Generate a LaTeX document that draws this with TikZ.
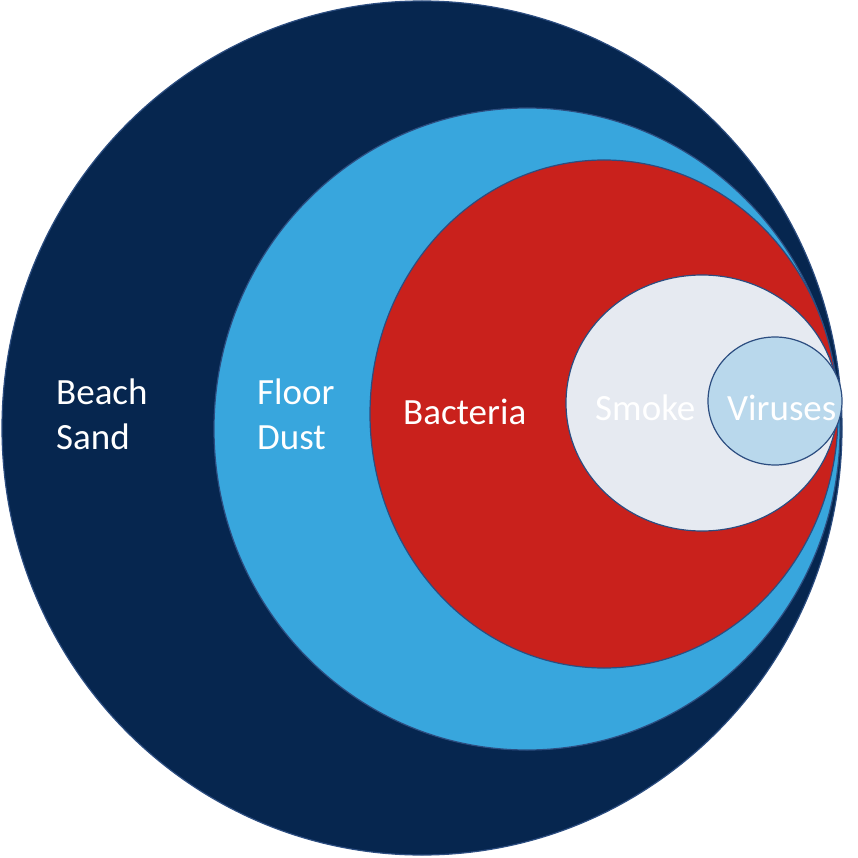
\documentclass[tikz,border=0pt]{standalone}
\usepackage{fontspec}
\setmainfont{Carlito}
\definecolor{navy}{HTML}{06264F}
\definecolor{sky}{HTML}{38A6DD}
\definecolor{redc}{HTML}{C9211C}
\definecolor{smokec}{HTML}{E6EAF1}
\definecolor{virc}{HTML}{B9D8EC}
\definecolor{edge}{HTML}{2C4D80}
\begin{document}
\begin{tikzpicture}[x=1pt,y=-1pt,
  ring/.style={draw=edge,line width=1.2pt},
  lbl/.style={text=white,font=\fontsize{37}{45}\selectfont,align=left,anchor=west,inner sep=0pt}]
\useasboundingbox (0,0) rectangle (858,858);
\fill[white] (0,0) rectangle (858,858);
\draw[ring,fill=navy] (422,428) ellipse [x radius=420,y radius=427];
\draw[ring,fill=sky] (527,429) ellipse [x radius=313,y radius=321];
\draw[ring,fill=redc] (604,414) ellipse [x radius=234,y radius=254];
\draw[ring,fill=smokec] (702,403) ellipse [x radius=136,y radius=128];
\draw[ring,fill=virc] (775,401) ellipse [x radius=67,y radius=64];
\node[lbl] (beach) at (56,414) {Beach\\Sand};
\node[lbl] (floor) at (257,414) {Floor\\Dust};
\node[lbl] (bact) at (403,412) {Bacteria};
\node[lbl] (smoke) at (595,408) {Smoke};
\node[lbl] (vir) at (727,408) {Viruses};
\end{tikzpicture}
\end{document}
